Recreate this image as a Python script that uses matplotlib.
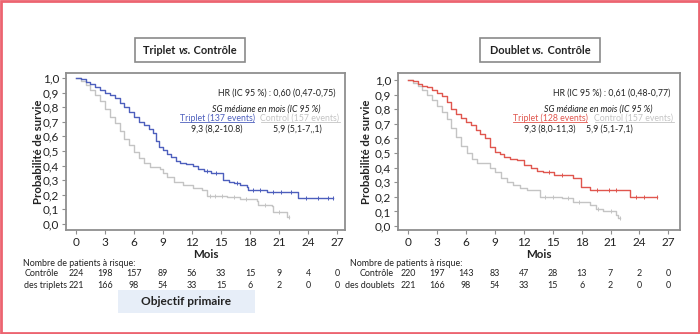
import matplotlib
matplotlib.use("Agg")
import matplotlib.pyplot as plt
import numpy as np
from matplotlib.patches import Rectangle
from matplotlib.lines import Line2D
from matplotlib.transforms import blended_transform_factory

plt.rcParams['font.family'] = ['Lato', 'DejaVu Sans']

# --- Kaplan-Meier curves (months, survival probability) ---
trip_t = [0, 0.5, 1.0, 1.5, 2.0, 2.5, 3.0, 3.5, 4.0, 4.5, 5.0, 5.5, 6.0, 6.5, 7.0, 7.5,
          8.0, 8.3, 8.6, 9.0, 9.4, 9.8, 10.3, 10.8, 11.4, 12.1, 12.6, 13.2, 14.0, 15.2,
          15.8, 16.3, 17.0, 17.7, 17.8, 19.7, 22.9]
trip_s = [1.0, 0.99, 0.97, 0.96, 0.94, 0.92, 0.90, 0.88, 0.86, 0.83, 0.80, 0.77, 0.73,
          0.70, 0.68, 0.65, 0.62, 0.57, 0.53, 0.51, 0.48, 0.46, 0.43, 0.42, 0.41, 0.40,
          0.38, 0.36, 0.35, 0.30, 0.29, 0.28, 0.27, 0.255, 0.235, 0.22, 0.18]
trip_end = 26.6
trip_cens = [13.5, 14.5, 16.6, 18.3, 19.0, 20.4, 21.2, 22.2, 23.8, 25.0, 26.0, 26.6]

ctl1_t = [0, 0.5, 1.0, 1.5, 2.0, 2.5, 3.0, 3.5, 4.0, 4.5, 5.0, 5.5, 6.0, 6.5, 7.0, 7.6,
          8.7, 9.0, 9.4, 10.1, 11.1, 12.1, 13.0, 13.5, 15.6, 17.0, 18.7, 18.8, 20.3,
          20.4, 21.6, 21.8]
ctl1_s = [1.0, 0.98, 0.95, 0.92, 0.88, 0.84, 0.79, 0.73, 0.69, 0.64, 0.58, 0.54, 0.49,
          0.45, 0.42, 0.39, 0.38, 0.35, 0.32, 0.29, 0.27, 0.245, 0.235, 0.19, 0.185,
          0.17, 0.155, 0.13, 0.125, 0.085, 0.08, 0.05]
ctl1_end = 22.0
ctl1_cens = [13.9, 14.4, 15.1, 16.3, 17.6, 19.5, 21.0, 22.0]

doub_t = [0, 0.5, 1.0, 1.5, 2.0, 2.5, 3.0, 3.5, 4.0, 4.5, 5.0, 5.5, 6.0, 6.5, 7.0, 7.5,
          8.0, 8.5, 9.0, 9.5, 10.0, 10.6, 11.3, 12.0, 12.7, 13.4, 14.0, 15.1, 17.1,
          17.9, 18.9, 23.0]
doub_s = [1.0, 0.99, 0.97, 0.96, 0.95, 0.93, 0.91, 0.89, 0.85, 0.80, 0.77, 0.74, 0.71,
          0.69, 0.66, 0.63, 0.60, 0.54, 0.51, 0.49, 0.47, 0.46, 0.45, 0.42, 0.40, 0.38,
          0.37, 0.35, 0.33, 0.27, 0.245, 0.20]
doub_end = 25.8
doub_cens = [14.6, 16.0, 19.6, 20.8, 21.6, 23.6, 24.5, 25.8]

ctl2_t = [0, 0.5, 1.0, 1.5, 2.0, 2.5, 3.0, 3.5, 4.0, 4.5, 5.0, 5.5, 6.1, 6.6, 7.2, 8.5,
          9.0, 9.6, 10.3, 10.9, 11.6, 12.3, 13.7, 16.0, 17.1, 18.9, 19.5, 20.2, 21.6,
          21.8]
ctl2_s = [1.0, 0.98, 0.96, 0.93, 0.90, 0.86, 0.82, 0.78, 0.73, 0.67, 0.61, 0.55, 0.50,
          0.46, 0.43, 0.40, 0.37, 0.33, 0.30, 0.28, 0.26, 0.245, 0.20, 0.19, 0.165,
          0.145, 0.12, 0.10, 0.075, 0.055]
ctl2_end = 22.0
ctl2_cens = [14.2, 15.0, 16.6, 17.7, 19.7, 21.0, 22.0]

# --- numbers at risk ---
risk_times = [0, 3, 6, 9, 12, 15, 18, 21, 24, 27]
risk_ctl1 = [224, 198, 157, 89, 56, 33, 15, 9, 4, 0]
risk_trip = [221, 166, 98, 54, 33, 15, 6, 2, 0, 0]
risk_ctl2 = [220, 197, 143, 83, 47, 28, 13, 7, 2, 0]
risk_doub = [221, 166, 98, 54, 33, 15, 6, 2, 0, 0]

BLUE = '#4d5fbd'
RED = '#e0564e'
GREY = '#c4c4c4'
TXT = '#222222'
SMALL = 6.3
TABLE = 6.4

W, H = 700, 334


def fx(px):
    return px / W


def fy(py):
    return 1 - py / H


fig = plt.figure(figsize=(7, 3.34), dpi=100)
renderer = fig.canvas.get_renderer()


def km(ax, t, s, end, cens, color):
    tt = list(t) + [end]
    ss = list(s) + [s[-1]]
    ax.step(tt, ss, where='post', color=color, lw=1.0)
    idx = np.searchsorted(t, cens, side='right') - 1
    ax.plot(cens, np.array(s)[idx], ls='none', marker='|', ms=3, mew=0.7, color=color)


def rich(x, y, parts, size):
    # parts: (text, weight, style), centred on x as a whole
    objs = []
    for s, w, st in parts:
        objs.append(fig.text(0, fy(y), s, fontsize=size, weight=w, style=st,
                             va='center', ha='left', color=TXT))
    widths = [o.get_window_extent(renderer).width for o in objs]
    cur = x - sum(widths) / 2
    for o, w in zip(objs, widths):
        o.set_x(fx(cur))
        cur += w


def underlined(x, y, s, color, size):
    t = fig.text(fx(x), fy(y), s, fontsize=size, color=color, ha='center', va='center')
    bb = t.get_window_extent(renderer)
    fig.add_artist(Line2D([bb.x0 / W, bb.x1 / W], [bb.y0 / H + 0.003] * 2,
                          color=color, lw=0.6, transform=fig.transFigure))


def panel(box, xlim, ylim, curves, ylab_x):
    l, r, t, b = box
    ax = fig.add_axes([fx(l), fy(b), fx(r) - fx(l), fy(t) - fy(b)])
    for c in curves:
        km(ax, *c)
    ax.set_xlim(*xlim)
    ax.set_ylim(*ylim)
    ax.set_xticks(risk_times)
    yt = np.round(np.arange(0, 1.01, 0.1), 1)
    ax.set_yticks(yt)
    ax.set_yticklabels([f'{v:.1f}'.replace('.', ',') for v in yt])
    for sp in ax.spines.values():
        sp.set_color('#8f8f8f')
        sp.set_linewidth(1.3)
    ax.tick_params(length=3, width=0.8, color='#8f8f8f', labelsize=8.5, labelcolor=TXT,
                   pad=2)
    ax.set_xlabel('Mois', fontsize=8.3, weight='bold', labelpad=1, color=TXT)
    fig.text(fx(ylab_x), fy((t + b) / 2), 'Probabilité de survie', rotation=90,
             fontsize=8.2, weight='bold', ha='center', va='center', color=TXT)
    return ax


def title_box(x0, x1, y0, y1, parts):
    fig.add_artist(Rectangle((fx(x0), fy(y1)), fx(x1) - fx(x0), fy(y0) - fy(y1),
                             transform=fig.transFigure, fill=False,
                             edgecolor='#8a8a8a', lw=1.2))
    rich((x0 + x1) / 2, (y0 + y1) / 2, parts, 7.9)


def risk_table(ax, x_head, rows):
    fig.text(fx(x_head), fy(263), 'Nombre de patients à risque:', fontsize=TABLE,
             ha='left', va='center', color=TXT)
    tr = blended_transform_factory(ax.transData, fig.transFigure)
    for (label, lx, y, vals) in rows:
        fig.text(fx(lx), fy(y), label, fontsize=TABLE, ha='left', va='center', color=TXT)
        for tm, v in zip(risk_times, vals):
            ax.text(tm, fy(y), str(v), fontsize=TABLE, ha='center', va='center',
                    color=TXT, transform=tr, clip_on=False)


# --- left panel: triplet vs control ---
ax1 = panel((66, 345, 73, 230), (-1.03, 27.8), (-0.041, 1.034),
            [(ctl1_t, ctl1_s, ctl1_end, ctl1_cens, GREY),
             (trip_t, trip_s, trip_end, trip_cens, BLUE)], 38)
title_box(135, 245, 38, 62, [('Triplet ', 'bold', 'normal'), ('vs.', 'bold', 'italic'),
                             (' Contrôle', 'bold', 'normal')])
fig.text(fx(335), fy(93), 'HR (IC 95 %) : 0,60 (0,47-0,75)', fontsize=SMALL, ha='right',
         va='center', color=TXT)
fig.text(fx(266), fy(109), 'SG médiane en mois (IC 95 %)', fontsize=SMALL, style='italic',
         ha='center', va='center', color=TXT)
underlined(217, 118.5, 'Triplet (137 events)', BLUE, SMALL)
underlined(300, 118.5, 'Control (157 events)', GREY, SMALL)
fig.text(fx(217), fy(129), '9,3 (8,2-10.8)', fontsize=SMALL, ha='center', va='center',
         color=TXT)
fig.text(fx(297), fy(129), '5,9 (5,1-7,,1)', fontsize=SMALL, ha='center', va='center',
         color=TXT)
risk_table(ax1, 23, [('Contrôle', 25, 274, risk_ctl1),
                     ('des triplets', 24, 285, risk_trip)])

# --- right panel: doublet vs control ---
ax2 = panel((398, 680, 73, 230), (-1.04, 28.2), (-0.027, 1.048),
            [(ctl2_t, ctl2_s, ctl2_end, ctl2_cens, GREY),
             (doub_t, doub_s, doub_end, doub_cens, RED)], 367)
title_box(480, 600, 38, 62, [('Doublet ', 'bold', 'normal'), ('vs.', 'bold', 'italic'),
                             (' Contrôle', 'bold', 'normal')])
fig.text(fx(670), fy(93), 'HR (IC 95 %) : 0,61 (0,48-0,77)', fontsize=SMALL, ha='right',
         va='center', color=TXT)
fig.text(fx(598), fy(109), 'SG médiane en mois (IC 95 %)', fontsize=SMALL, style='italic',
         ha='center', va='center', color=TXT)
underlined(550, 118.5, 'Triplet (128 events)', RED, SMALL)
underlined(634, 118.5, 'Control (157 events)', GREY, SMALL)
fig.text(fx(550), fy(129), '9,3 (8,0-11,3)', fontsize=SMALL, ha='center', va='center',
         color=TXT)
fig.text(fx(609), fy(129), '5,9 (5,1-7,1)', fontsize=SMALL, ha='center', va='center',
         color=TXT)
risk_table(ax2, 350, [('Contrôle', 360, 274, risk_ctl2),
                      ('des doublets', 345, 285, risk_doub)])

# "Objectif primaire" banner
fig.add_artist(Rectangle((fx(118), fy(313)), fx(255) - fx(118), fy(290) - fy(313),
                         transform=fig.transFigure, facecolor='#e7eef8', edgecolor='none'))
fig.text(fx(186.5), fy(301.5), 'Objectif primaire', fontsize=8.6, weight='bold',
         ha='center', va='center', color=TXT)

# outer frame
fig.add_artist(Rectangle((0.001, 0.002), 0.997, 0.995, transform=fig.transFigure,
                         fill=False, edgecolor='#ec6470', lw=2))

fig.savefig('out.png', dpi=100)
